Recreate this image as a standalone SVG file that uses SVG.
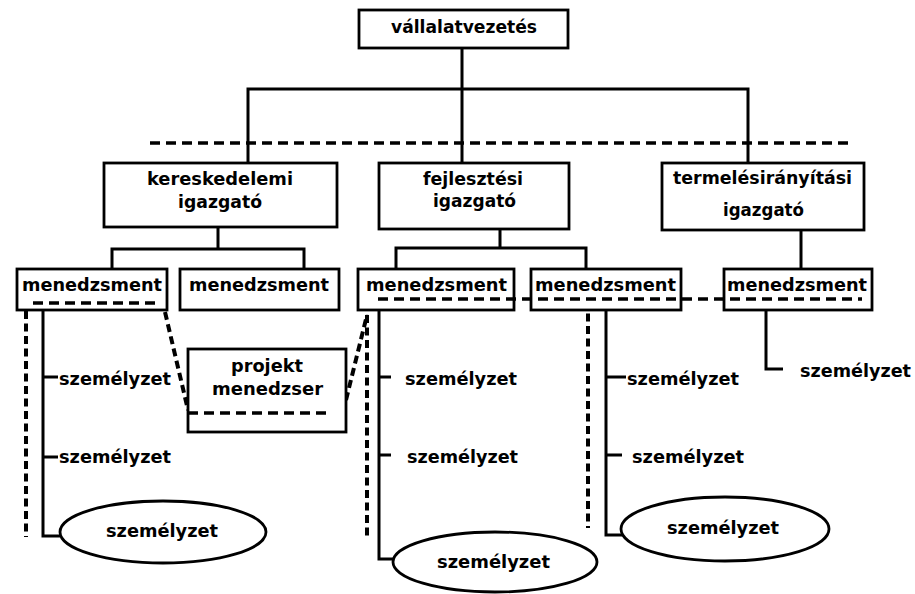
<svg xmlns="http://www.w3.org/2000/svg" width="915" height="594" viewBox="0 0 915 594">
<style>
.box{fill:#fff;stroke:#000;stroke-width:2.8}
.ell{fill:#fff;stroke:#000;stroke-width:2.8}
.t{font-family:"DejaVu Sans","Verdana",sans-serif;font-weight:bold;font-size:18.5px;fill:#000}
.s{fill:none;stroke:#000;stroke-width:3}
.d{fill:none;stroke:#000;stroke-width:3.6;stroke-dasharray:10 6}
.dv{fill:none;stroke:#000;stroke-width:4;stroke-dasharray:8 4.5}
</style>
<rect width="915" height="594" fill="#fff"/>
<g id="connectors">
<path class="s" d="M462 48 V163 M248 163 V89 H748 V163"/>
<path class="d" d="M150 143 H850"/>
<path class="s" d="M218 227 V249 M112 269 V249 H304 V269"/>
<path class="s" d="M500 229 V248 M396 270 V248 H586 V270"/>
<path class="s" d="M801 230 V269"/>
<path class="s" d="M43 310 V536 H60 M43 377 H58 M43 457 H58"/>
<path class="dv" d="M26 311 V537"/>
<path class="dv" d="M165 312 L188 410"/>
<path class="dv" d="M346 400 L367 315 V537"/>
<path class="s" d="M379 310 V559 H394 M379 377 H391 M379 455 H391"/>
<path class="dv" d="M588 301 V528"/>
<path class="s" d="M606 310 V535 H622 M606 377 H626 M606 455 H622"/>
<path class="s" d="M766 310 V369 H783"/>
</g>
<g id="n-vallalatvezetes"><rect class="box" x="359" y="10" width="209" height="38"/><text class="t" x="391" y="33" textLength="146" lengthAdjust="spacingAndGlyphs">vállalatvezetés</text></g>
<g id="n-kereskedelemi"><rect class="box" x="104" y="163" width="233" height="64"/><text class="t" x="147" y="185" textLength="146" lengthAdjust="spacingAndGlyphs">kereskedelemi</text><text class="t" x="178" y="208" textLength="84" lengthAdjust="spacingAndGlyphs">igazgató</text></g>
<g id="n-fejlesztesi"><rect class="box" x="379" y="163" width="190" height="66"/><text class="t" x="423" y="185" textLength="100" lengthAdjust="spacingAndGlyphs">fejlesztési</text><text class="t" x="433" y="207" textLength="83" lengthAdjust="spacingAndGlyphs">igazgató</text></g>
<g id="n-termeles"><rect class="box" x="662" y="163" width="202" height="67"/><text class="t" x="673" y="184" textLength="179" lengthAdjust="spacingAndGlyphs">termelésirányítási</text><text class="t" x="723" y="216" textLength="81" lengthAdjust="spacingAndGlyphs">igazgató</text></g>
<g id="n-men1"><rect class="box" x="17" y="269" width="150" height="41"/><text class="t" x="22" y="291" textLength="140" lengthAdjust="spacingAndGlyphs">menedzsment</text><path class="d" d="M33 303 H157"/></g>
<g id="n-men2"><rect class="box" x="180" y="269" width="159" height="41"/><text class="t" x="189" y="291" textLength="140" lengthAdjust="spacingAndGlyphs">menedzsment</text></g>
<g id="n-men3"><rect class="box" x="358" y="269" width="156" height="41"/><text class="t" x="366" y="291" textLength="141" lengthAdjust="spacingAndGlyphs">menedzsment</text></g>
<g id="n-men4"><rect class="box" x="531" y="269" width="150" height="41"/><text class="t" x="535" y="291" textLength="141" lengthAdjust="spacingAndGlyphs">menedzsment</text></g>
<g id="n-men5"><rect class="box" x="724" y="269" width="148" height="41"/><text class="t" x="727" y="291" textLength="140" lengthAdjust="spacingAndGlyphs">menedzsment</text></g>
<g id="project-line"><path class="d" d="M378 299 H862"/></g>
<g id="n-projekt"><rect class="box" x="188" y="349" width="158" height="83"/><text class="t" x="231" y="372" textLength="72" lengthAdjust="spacingAndGlyphs">projekt</text><text class="t" x="212" y="395" textLength="111" lengthAdjust="spacingAndGlyphs">menedzser</text><path class="d" d="M188 413 H330"/></g>
<g id="n-sz1"><text class="t" x="59" y="385" textLength="112" lengthAdjust="spacingAndGlyphs">személyzet</text></g>
<g id="n-sz2"><text class="t" x="59" y="463" textLength="112" lengthAdjust="spacingAndGlyphs">személyzet</text></g>
<g id="n-sz3"><ellipse class="ell" cx="163" cy="532" rx="103" ry="31"/><text class="t" x="106" y="537" textLength="112" lengthAdjust="spacingAndGlyphs">személyzet</text></g>
<g id="n-sz4"><text class="t" x="405" y="385" textLength="112" lengthAdjust="spacingAndGlyphs">személyzet</text></g>
<g id="n-sz5"><text class="t" x="407" y="463" textLength="111" lengthAdjust="spacingAndGlyphs">személyzet</text></g>
<g id="n-sz6"><ellipse class="ell" cx="495" cy="562" rx="102" ry="30"/><text class="t" x="437" y="568" textLength="113" lengthAdjust="spacingAndGlyphs">személyzet</text></g>
<g id="n-sz7"><text class="t" x="627" y="385" textLength="112" lengthAdjust="spacingAndGlyphs">személyzet</text></g>
<g id="n-sz8"><text class="t" x="632" y="463" textLength="112" lengthAdjust="spacingAndGlyphs">személyzet</text></g>
<g id="n-sz9"><ellipse class="ell" cx="725" cy="529" rx="104" ry="32"/><text class="t" x="667" y="534" textLength="112" lengthAdjust="spacingAndGlyphs">személyzet</text></g>
<g id="n-sz10"><text class="t" x="800" y="377" textLength="111" lengthAdjust="spacingAndGlyphs">személyzet</text></g>
</svg>
